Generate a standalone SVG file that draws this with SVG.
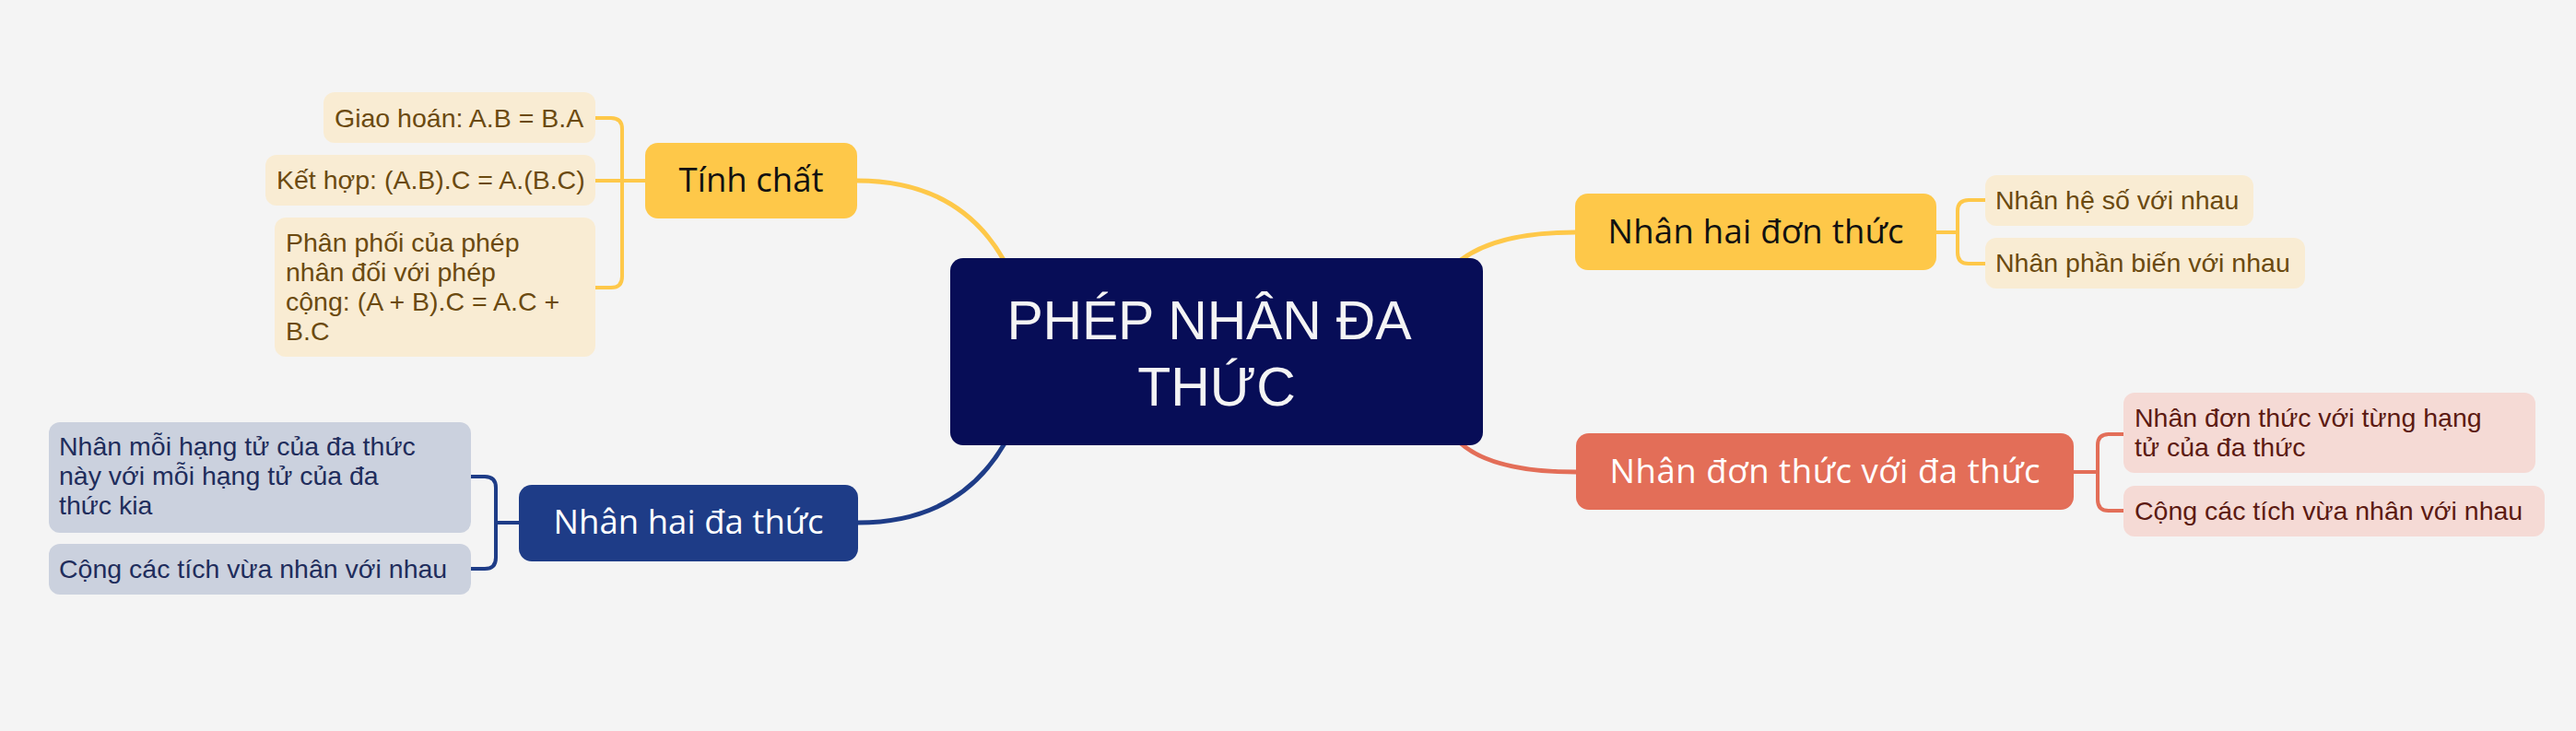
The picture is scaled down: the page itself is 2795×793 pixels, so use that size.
<svg xmlns="http://www.w3.org/2000/svg" width="2795" height="793" viewBox="0 0 2795 793">
<style>
.sub{font-family:"Liberation Sans","Noto Sans",sans-serif;font-size:28.5px}
.main{font-family:"Open Sans","Noto Sans",sans-serif;font-size:36.5px;text-anchor:middle}
.ctr{font-family:"Liberation Sans","Noto Sans",sans-serif;font-size:59px;text-anchor:middle;fill:#f4f4f4}
.y{fill:#fec849}
.yc{fill:#f9ecd3}
.yt{fill:#6b4a10}
.o{fill:#e36e58}
.oc{fill:#f5dad5}
.ot{fill:#5c1a12}
.b{fill:#1e3c87}
.bc{fill:#cbd1de}
.bt{fill:#1f2d5c}
.con{fill:none;stroke-linecap:butt}
</style>
<rect width="2795" height="793" fill="#f4f4f4"/>
<g id="connectors">
<path class="con" d="M930,196 Q1040,196 1089,282" stroke="#fec849" stroke-width="5"/>
<path class="con" d="M1585,282 Q1625,252 1709,252" stroke="#fec849" stroke-width="5"/>
<path class="con" d="M1585,481 Q1620,512 1710,512" stroke="#e36e58" stroke-width="5"/>
<path class="con" d="M1090,481 Q1040,567 931,567" stroke="#1e3c87" stroke-width="5"/>
<path class="con" d="M646,128 H663 Q675,128 675,140 V300 Q675,312 663,312 H646 M646,196 H700" stroke="#fec849" stroke-width="4"/>
<path class="con" d="M2101,252 H2124 M2154,217 H2136 Q2124,217 2124,229 V274 Q2124,286 2136,286 H2154" stroke="#fec849" stroke-width="4"/>
<path class="con" d="M2250,512 H2276 M2304,471 H2288 Q2276,471 2276,483 V542 Q2276,554 2288,554 H2304" stroke="#e36e58" stroke-width="4"/>
<path class="con" d="M563,567 H538 M511,517 H526 Q538,517 538,529 V605 Q538,617 526,617 H511" stroke="#1e3c87" stroke-width="4"/>
</g>
<g id="center">
<rect x="1031" y="280" width="578" height="203" rx="14" fill="#070d57"/>
<text class="ctr" x="1312" y="368" textLength="439">PHÉP NHÂN ĐA</text>
<text class="ctr" x="1320" y="440">THỨC</text>
</g>
<g id="tinh-chat">
<rect class="y" x="700" y="155" width="230" height="82" rx="14"/>
<text class="main" x="815" y="208" fill="#111" textLength="157">Tính chất</text>
</g>
<g id="giao-hoan">
<rect class="yc" x="351" y="100" width="295" height="55" rx="12"/>
<text class="sub yt" x="363" y="138">Giao hoán: A.B = B.A</text>
</g>
<g id="ket-hop">
<rect class="yc" x="288" y="168" width="358" height="55" rx="12"/>
<text class="sub yt" x="300" y="205">Kết hợp: (A.B).C = A.(B.C)</text>
</g>
<g id="phan-phoi">
<rect class="yc" x="298" y="236" width="348" height="151" rx="12"/>
<text class="sub yt" x="310" y="273">Phân phối của phép</text>
<text class="sub yt" x="310" y="305">nhân đối với phép</text>
<text class="sub yt" x="310" y="337">cộng: (A + B).C = A.C +</text>
<text class="sub yt" x="310" y="369">B.C</text>
</g>
<g id="nhan-hai-don-thuc">
<rect class="y" x="1709" y="210" width="392" height="83" rx="14"/>
<text class="main" x="1905" y="264" fill="#111" textLength="321">Nhân hai đơn thức</text>
</g>
<g id="nhan-he-so">
<rect class="yc" x="2154" y="190" width="291" height="55" rx="12"/>
<text class="sub yt" x="2165" y="227">Nhân hệ số với nhau</text>
</g>
<g id="nhan-phan-bien">
<rect class="yc" x="2154" y="258" width="347" height="55" rx="12"/>
<text class="sub yt" x="2165" y="295">Nhân phần biến với nhau</text>
</g>
<g id="nhan-don-thuc-voi-da-thuc">
<rect class="o" x="1710" y="470" width="540" height="83" rx="14"/>
<text class="main" x="1980" y="524" fill="#ffffff" textLength="467">Nhân đơn thức với đa thức</text>
</g>
<g id="nhan-tung-hang-tu">
<rect class="oc" x="2304" y="426" width="447" height="87" rx="12"/>
<text class="sub ot" x="2316" y="463">Nhân đơn thức với từng hạng</text>
<text class="sub ot" x="2316" y="495">tử của đa thức</text>
</g>
<g id="cong-cac-tich-1">
<rect class="oc" x="2304" y="527" width="457" height="55" rx="12"/>
<text class="sub ot" x="2316" y="564">Cộng các tích vừa nhân với nhau</text>
</g>
<g id="nhan-hai-da-thuc">
<rect class="b" x="563" y="526" width="368" height="83" rx="14"/>
<text class="main" x="747" y="579" fill="#ffffff" textLength="293">Nhân hai đa thức</text>
</g>
<g id="nhan-moi-hang-tu">
<rect class="bc" x="53" y="458" width="458" height="120" rx="12"/>
<text class="sub bt" x="64" y="494">Nhân mỗi hạng tử của đa thức</text>
<text class="sub bt" x="64" y="526">này với mỗi hạng tử của đa</text>
<text class="sub bt" x="64" y="558">thức kia</text>
</g>
<g id="cong-cac-tich-2">
<rect class="bc" x="53" y="590" width="458" height="55" rx="12"/>
<text class="sub bt" x="64" y="627">Cộng các tích vừa nhân với nhau</text>
</g>
</svg>
